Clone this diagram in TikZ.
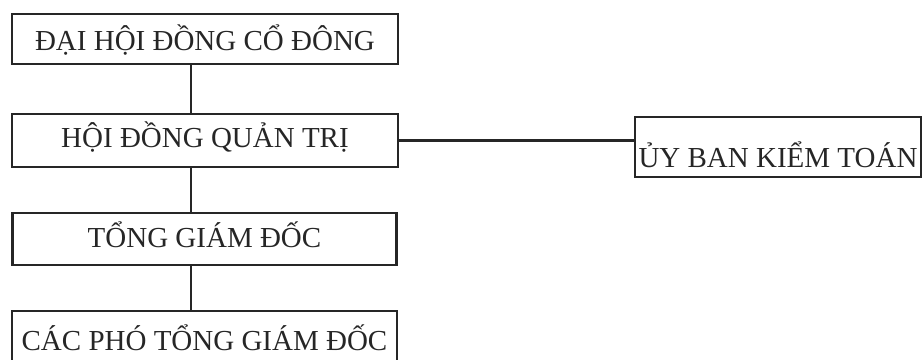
\documentclass[tikz,border=0pt]{standalone}
\usepackage{fontspec}
\setmainfont{Liberation Serif}
\usepackage{tikz}

\tikzset{
  orgbox/.style={draw=black!85, line width=2.4pt, inner sep=0pt, text depth=0pt,
    font=\fontsize{29}{31}\selectfont, text=black!85},
  link/.style={draw=black!85, line width=2.4pt}
}

\begin{document}
\begin{tikzpicture}[x=1pt,y=-1pt]
\useasboundingbox (0,0) rectangle (923,359);
\coordinate (spine) at (191,0);
% left column
\node (dhcd) at (205,39) [orgbox, minimum width=386pt, minimum height=50pt, text height=22pt] {ĐẠI HỘI ĐỒNG CỔ ĐÔNG};
\node (hdqt) at (205,140.5) [orgbox, minimum width=386pt, minimum height=53pt, text height=13pt] {HỘI ĐỒNG QUẢN TRỊ};
\node (tgd) at (204.5,239) [orgbox, minimum width=384pt, minimum height=52pt, text height=16pt] {TỔNG GIÁM ĐỐC};
\node (ptgd) at (204.5,339.5) [orgbox, minimum width=385pt, minimum height=57pt, text height=21pt] {CÁC PHÓ TỔNG GIÁM ĐỐC};
% right side
\node (ubkt) at (778,147) [orgbox, minimum width=286pt, minimum height=60pt, text height=40pt] {ỦY BAN KIỂM TOÁN};
\draw[link] (dhcd.south -| spine) -- (hdqt.north -| spine);
\draw[link] (hdqt.south -| spine) -- (tgd.north -| spine);
\draw[link] (tgd.south -| spine) -- (ptgd.north -| spine);
\draw[link] (hdqt.east) -- (hdqt.east -| ubkt.west);
\end{tikzpicture}
\end{document}
